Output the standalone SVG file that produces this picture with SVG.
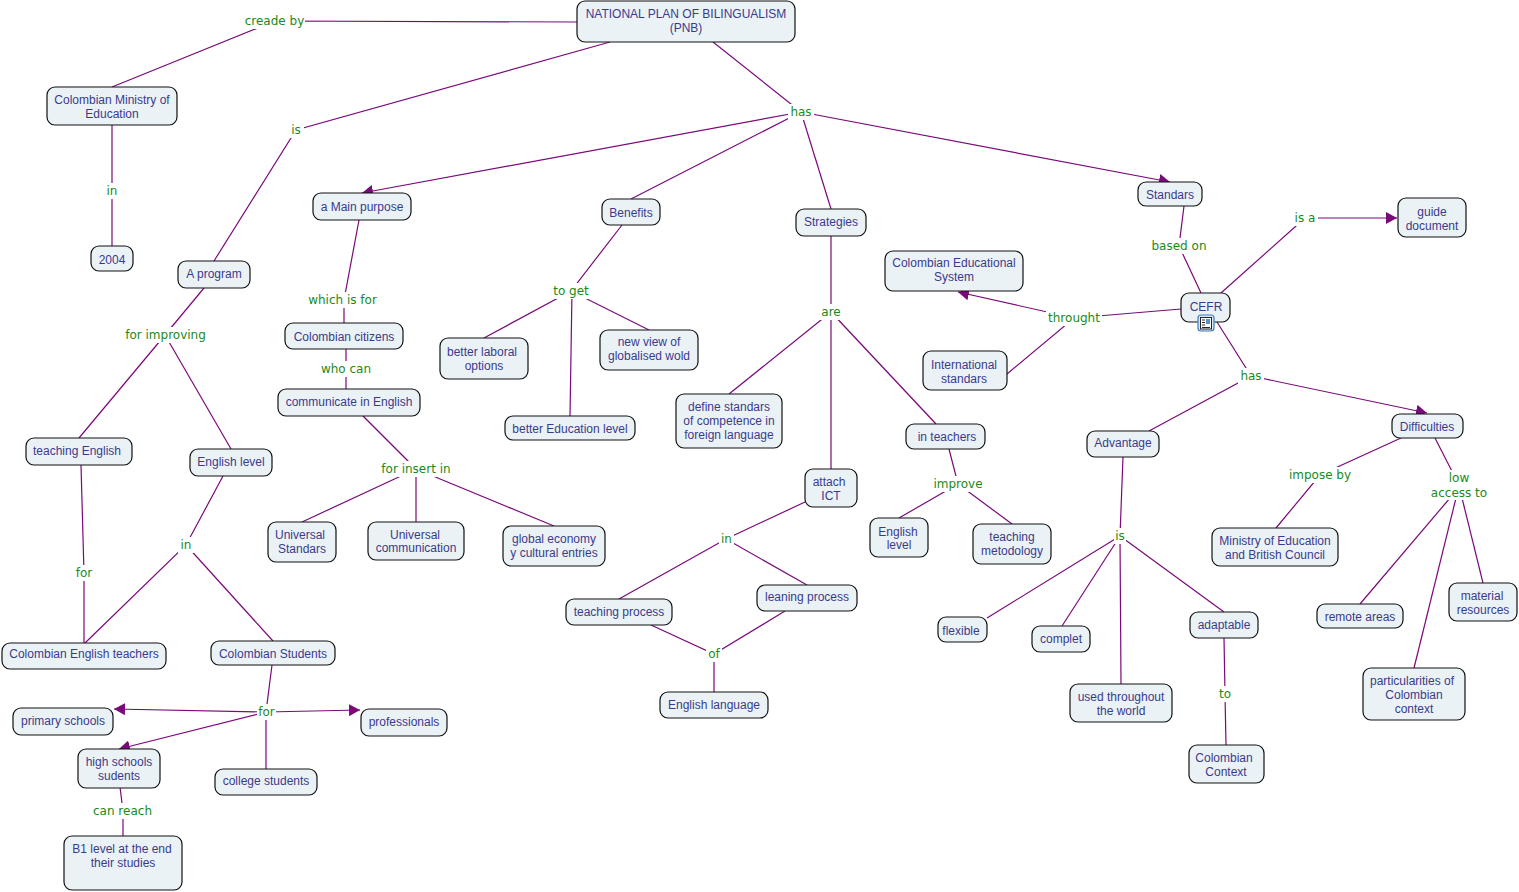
<svg xmlns="http://www.w3.org/2000/svg" width="1519" height="892" viewBox="0 0 1519 892">
<defs>
<marker id="ah" markerUnits="userSpaceOnUse" markerWidth="12" markerHeight="12" refX="11" refY="6" orient="auto"><path d="M0,0L11,6L0,12z" fill="#7a0a7a"/></marker>
</defs>
<style>
.n rect{fill:#ebf2f6;stroke:#111;stroke-width:1.2;rx:8px;ry:8px}
.n text{font-family:"Liberation Sans",Arial,sans-serif;font-size:12px;fill:#3a3a8c;text-anchor:middle}
#connectors path{fill:none;stroke:#7a0a7a;stroke-width:1.2}
.arr{marker-end:url(#ah)}
#labels rect{fill:#fff}
#labels text{font-family:"DejaVu Sans",Verdana,sans-serif;font-size:12px;fill:#1a8a1a;text-anchor:middle}
</style>
<rect width="1519" height="892" fill="#fff"/>
<g id="connectors">
<path d="M577,22L275,21L112,87"/>
<path d="M610,42L296,130L214,261"/>
<path d="M713,42L801,112"/>
<path class="arr" d="M801,112L362,193"/>
<path d="M801,112L631,199"/>
<path d="M801,112L831,209"/>
<path class="arr" d="M801,112L1170,182"/>
<path d="M112,125V259"/>
<path d="M204,288L165,335L79,438"/>
<path d="M165,335L231,449"/>
<path d="M81,465L84,573V643"/>
<path d="M223,476L186,545L85,643"/>
<path d="M186,545L273,641"/>
<path d="M359,220L344,300V323"/>
<path d="M346,349V389"/>
<path d="M363,416L416,469"/>
<path d="M416,469L302,522"/>
<path d="M416,469V522"/>
<path d="M416,469L554,526"/>
<path d="M622,225L571,291L484,338"/>
<path d="M571,291L649,330"/>
<path d="M572,291L570,416"/>
<path d="M831,236V469"/>
<path d="M831,312L729,394"/>
<path d="M831,312L936,424"/>
<path d="M949,449L958,484L899,518"/>
<path d="M958,484L1012,524"/>
<path d="M805,502L726,539L619,599"/>
<path d="M726,539L807,585"/>
<path d="M651,625L714,654L785,611"/>
<path d="M714,654V692"/>
<path d="M272,665L266,712V769"/>
<path class="arr" d="M266,712L114,709"/>
<path class="arr" d="M266,712L360,710"/>
<path class="arr" d="M266,712L119,749"/>
<path d="M120,787L123,811V836"/>
<path d="M1184,206L1179,246L1201,293"/>
<path d="M1221,293L1305,218"/>
<path class="arr" d="M1305,218H1397"/>
<path d="M1181,309L1074,318L1007,374"/>
<path class="arr" d="M1074,318L958,292"/>
<path d="M1217,322L1251,376L1149,431"/>
<path class="arr" d="M1251,376L1427,413"/>
<path d="M1123,457L1120,536L1121,684"/>
<path d="M1120,536L987,618"/>
<path d="M1120,536L1062,626"/>
<path d="M1120,536L1224,612"/>
<path d="M1224,638L1225,694L1226,745"/>
<path d="M1401,438L1320,475L1276,528"/>
<path d="M1435,438L1459,485"/>
<path d="M1450,498L1360,604"/>
<path d="M1456,498L1414,668"/>
<path d="M1462,498L1483,583"/>
</g>
<g id="labels">
<rect x="243" y="13" width="62" height="16"/><text x="274.500" y="25">creade by</text>
<rect x="288" y="122" width="16" height="16"/><text x="296" y="134">is</text>
<rect x="788" y="104" width="26" height="16"/><text x="801" y="116">has</text>
<rect x="105" y="183" width="15" height="16"/><text x="112" y="195">in</text>
<rect x="122" y="327" width="87" height="16"/><text x="165.500" y="339">for improving</text>
<rect x="178" y="537" width="16" height="16"/><text x="186" y="549">in</text>
<rect x="74" y="565" width="20" height="16"/><text x="84" y="577">for</text>
<rect x="305" y="292" width="75" height="16"/><text x="342.500" y="304">which is for</text>
<rect x="318" y="361" width="56" height="16"/><text x="346" y="373">who can</text>
<rect x="378" y="461" width="76" height="16"/><text x="416" y="473">for insert in</text>
<rect x="550" y="283" width="42" height="16"/><text x="571" y="295">to get</text>
<rect x="819" y="304" width="24" height="16"/><text x="831" y="316">are</text>
<rect x="931" y="476" width="54" height="16"/><text x="958" y="488">improve</text>
<rect x="719" y="531" width="15" height="16"/><text x="726.500" y="543">in</text>
<rect x="706" y="646" width="16" height="16"/><text x="714" y="658">of</text>
<rect x="257" y="704" width="19" height="16"/><text x="266.500" y="716">for</text>
<rect x="91" y="803" width="63" height="16"/><text x="122.500" y="815">can reach</text>
<rect x="1150" y="238" width="58" height="16"/><text x="1179" y="250">based on</text>
<rect x="1292" y="210" width="26" height="16"/><text x="1305" y="222">is a</text>
<rect x="1046" y="310" width="56" height="16"/><text x="1074" y="322">throught</text>
<rect x="1238" y="368" width="26" height="16"/><text x="1251" y="380">has</text>
<rect x="1114" y="528" width="12" height="16"/><text x="1120" y="540">is</text>
<rect x="1216" y="686" width="18" height="16"/><text x="1225" y="698">to</text>
<rect x="1286" y="467" width="68" height="16"/><text x="1320" y="479">impose by</text>
<rect x="1428" y="470" width="62" height="30"/><text x="1459" y="482">low</text><text x="1459" y="497">access to</text>
</g>
<g id="n1" class="n"><rect x="577" y="1" width="218" height="41"/><text x="686" y="18">NATIONAL PLAN OF BILINGUALISM</text><text x="686" y="32">(PNB)</text></g>
<g id="n2" class="n"><rect x="47" y="87" width="130" height="38"/><text x="112" y="104">Colombian Ministry of</text><text x="112" y="118">Education</text></g>
<g id="n3" class="n"><rect x="91" y="246" width="42" height="25"/><text x="112" y="264">2004</text></g>
<g id="n4" class="n"><rect x="178" y="261" width="72" height="27"/><text x="214" y="278">A program</text></g>
<g id="n5" class="n"><rect x="313" y="193" width="98" height="27"/><text x="362" y="211">a Main purpose</text></g>
<g id="n6" class="n"><rect x="602" y="199" width="58" height="26"/><text x="631" y="217">Benefits</text></g>
<g id="n7" class="n"><rect x="796" y="209" width="70" height="27"/><text x="831" y="226">Strategies</text></g>
<g id="n8" class="n"><rect x="1138" y="182" width="64" height="24"/><text x="1170" y="199">Standars</text></g>
<g id="n9" class="n"><rect x="1398" y="198" width="68" height="39"/><text x="1432" y="216">guide</text><text x="1432" y="230">document</text></g>
<g id="n10" class="n"><rect x="885" y="251" width="138" height="40"/><text x="954" y="267">Colombian Educational</text><text x="954" y="281">System</text></g>
<g id="n11" class="n"><rect x="1181" y="293" width="49" height="29"/><text x="1206" y="311">CEFR</text>
<rect x="1198" y="315" width="16" height="16" style="fill:#dbe9f7;stroke:#3a7cc0;rx:3px;ry:3px"/><rect x="1200.500" y="317.500" width="11" height="11.500" style="fill:#fff;stroke:#222;stroke-width:1;rx:0;ry:0"/><path d="M1202,320h3M1202,322.500h3M1202,325h3M1202,327.500h8" stroke="#222" stroke-width="1" fill="none"/><rect x="1206" y="319" width="4" height="5" style="fill:#5a8fc8;stroke:none;rx:0;ry:0"/></g>
<g id="n12" class="n"><rect x="923" y="351" width="84" height="39"/><text x="964" y="369">International</text><text x="964" y="383">standars</text></g>
<g id="n13" class="n"><rect x="285" y="323" width="118" height="26"/><text x="344" y="341">Colombian citizens</text></g>
<g id="n14" class="n"><rect x="278" y="389" width="142" height="27"/><text x="349" y="406">communicate in English</text></g>
<g id="n15" class="n"><rect x="440" y="338" width="88" height="41"/><text x="482" y="356">better laboral</text><text x="484" y="370">options</text></g>
<g id="n16" class="n"><rect x="600" y="330" width="98" height="40"/><text x="649" y="346">new view of</text><text x="649" y="360">globalised wold</text></g>
<g id="n17" class="n"><rect x="505" y="416" width="130" height="24"/><text x="570" y="433">better Education level</text></g>
<g id="n18" class="n"><rect x="676" y="394" width="106" height="54"/><text x="729" y="411">define standars</text><text x="729" y="425">of competence in</text><text x="729" y="439">foreign language</text></g>
<g id="n19" class="n"><rect x="906" y="424" width="79" height="25"/><text x="947" y="441">in teachers</text></g>
<g id="n20" class="n"><rect x="805" y="469" width="52" height="38"/><text x="829" y="486">attach</text><text x="831" y="500">ICT</text></g>
<g id="n21" class="n"><rect x="26" y="438" width="106" height="27"/><text x="77" y="455">teaching English</text></g>
<g id="n22" class="n"><rect x="190" y="449" width="82" height="27"/><text x="231" y="466">English level</text></g>
<g id="n23" class="n"><rect x="268" y="522" width="68" height="40"/><text x="300" y="539">Universal</text><text x="302" y="553">Standars</text></g>
<g id="n24" class="n"><rect x="368" y="522" width="96" height="38"/><text x="415" y="539">Universal</text><text x="416" y="552">communication</text></g>
<g id="n25" class="n"><rect x="503" y="526" width="102" height="40"/><text x="554" y="543">global economy</text><text x="554" y="557">y cultural entries</text></g>
<g id="n26" class="n"><rect x="870" y="518" width="58" height="39"/><text x="898" y="536">English</text><text x="899" y="549">level</text></g>
<g id="n27" class="n"><rect x="973" y="524" width="78" height="40"/><text x="1012" y="541">teaching</text><text x="1012" y="555">metodology</text></g>
<g id="n28" class="n"><rect x="1087" y="431" width="72" height="26"/><text x="1123" y="447">Advantage</text></g>
<g id="n29" class="n"><rect x="1392" y="414" width="71" height="24"/><text x="1427" y="431">Difficulties</text></g>
<g id="n30" class="n"><rect x="1212" y="528" width="126" height="38"/><text x="1275" y="545">Ministry of Education</text><text x="1275" y="559">and British Council</text></g>
<g id="n31" class="n"><rect x="566" y="599" width="106" height="26"/><text x="619" y="616">teaching process</text></g>
<g id="n32" class="n"><rect x="757" y="585" width="100" height="26"/><text x="807" y="601">leaning process</text></g>
<g id="n33" class="n"><rect x="2" y="643" width="164" height="26"/><text x="84" y="658">Colombian English teachers</text></g>
<g id="n34" class="n"><rect x="211" y="641" width="124" height="24"/><text x="273" y="658">Colombian Students</text></g>
<g id="n35" class="n"><rect x="660" y="692" width="108" height="26"/><text x="714" y="709">English language</text></g>
<g id="n36" class="n"><rect x="938" y="617" width="49" height="25"/><text x="961" y="635">flexible</text></g>
<g id="n37" class="n"><rect x="1032" y="626" width="58" height="26"/><text x="1061" y="643">complet</text></g>
<g id="n38" class="n"><rect x="1190" y="612" width="68" height="26"/><text x="1224" y="629">adaptable</text></g>
<g id="n39" class="n"><rect x="1070" y="684" width="102" height="38"/><text x="1121" y="701">used throughout</text><text x="1121" y="715">the world</text></g>
<g id="n40" class="n"><rect x="1317" y="604" width="86" height="24"/><text x="1360" y="621">remote areas</text></g>
<g id="n41" class="n"><rect x="1449" y="583" width="68" height="38"/><text x="1482" y="600">material</text><text x="1483" y="614">resources</text></g>
<g id="n42" class="n"><rect x="1363" y="668" width="102" height="52"/><text x="1412" y="685">particularities of</text><text x="1414" y="699">Colombian</text><text x="1414" y="713">context</text></g>
<g id="n43" class="n"><rect x="1189" y="745" width="75" height="38"/><text x="1224" y="762">Colombian</text><text x="1226" y="776">Context</text></g>
<g id="n44" class="n"><rect x="13" y="708" width="100" height="27"/><text x="63" y="725">primary schools</text></g>
<g id="n45" class="n"><rect x="361" y="709" width="86" height="27"/><text x="404" y="726">professionals</text></g>
<g id="n46" class="n"><rect x="78" y="749" width="82" height="39"/><text x="119" y="766">high schools</text><text x="119" y="780">sudents</text></g>
<g id="n47" class="n"><rect x="215" y="769" width="102" height="26"/><text x="266" y="785">college students</text></g>
<g id="n48" class="n"><rect x="64" y="836" width="118" height="54"/><text x="122" y="853">B1 level at the end</text><text x="123" y="867">their studies</text></g>
</svg>
